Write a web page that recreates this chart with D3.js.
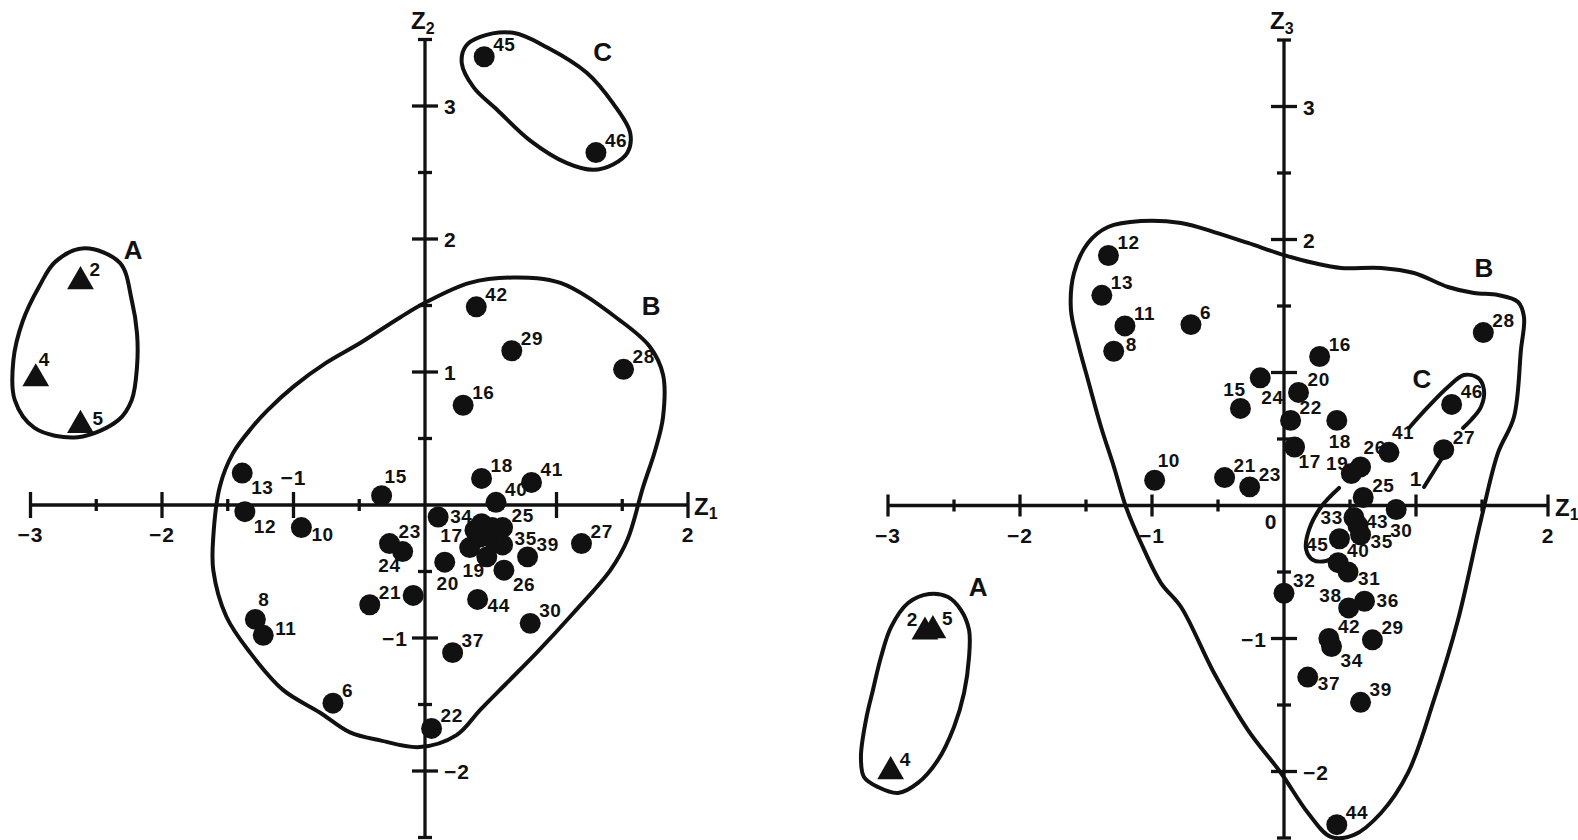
<!DOCTYPE html>
<html><head><meta charset="utf-8">
<script src="https://cdn.jsdelivr.net/npm/d3@7"></script>
<style>
body{margin:0;background:#fff;}
svg{display:block;background:#fff;}
text{font-family:"Liberation Sans",Arial,sans-serif;font-weight:bold;fill:#111;}
</style>
</head><body>
<svg id="chart" width="1578" height="840"></svg>
<script>
// ---------------- DATA ----------------
// group A (triangles)
const groupA = [2, 4, 5];

// Left panel: Z1 vs Z2
const leftIds = [2,4,5,45,46,42,29,28,16,13,12,10,15,8,11,6,21,23,24,18,41,40,34,25,17,19,35,39,26,20,44,30,37,22,27,31,33,36,38,43,32];
const leftZ1  = [-2.62,-2.96,-2.62,0.45,1.30,0.39,0.66,1.51,0.29,-1.39,-1.37,-0.94,-0.33,-1.29,-1.23,-0.70,-0.42,-0.27,-0.17,0.43,0.81,0.54,0.10,0.59,0.34,0.47,0.59,0.78,0.60,0.15,0.40,0.80,0.21,0.05,1.19,0.43,0.42,0.52,0.51,0.38,-0.09];
const leftZ2  = [1.68,0.95,0.60,3.37,2.65,1.49,1.16,1.02,0.75,0.24,-0.05,-0.17,0.07,-0.86,-0.98,-1.49,-0.75,-0.29,-0.35,0.20,0.17,0.02,-0.09,-0.17,-0.32,-0.39,-0.30,-0.39,-0.49,-0.43,-0.71,-0.89,-1.11,-1.68,-0.29,-0.14,-0.24,-0.26,-0.17,-0.19,-0.68];
const leftLabelPos = ["ne","nne","ene","ne","ne","ne","ne","ne","ne","se","se","ese","nne","nne","ene","ne","ne","ne","sw","ne","ne","ne","e","ne","nw","sw","ene","ne","se","s","ese","ne","ne","ne","ne","none","none","none","none","none","none"];

// Right panel: Z1 vs Z3
const rightIds = [2,5,4,12,13,11,8,6,10,16,24,15,20,22,18,17,21,23,19,26,41,46,27,28,25,30,33,43,35,45,40,31,32,38,36,42,34,29,37,39,44];
const rightZ1  = [-2.72,-2.66,-2.98,-1.33,-1.38,-1.205,-1.29,-0.705,-0.98,0.27,-0.18,-0.33,0.11,0.05,0.40,0.08,-0.45,-0.26,0.51,0.58,0.795,1.27,1.21,1.51,0.60,0.85,0.53,0.56,0.58,0.42,0.41,0.485,0.0,0.49,0.61,0.34,0.36,0.67,0.18,0.58,0.40];
const rightZ3  = [-0.95,-0.94,-2.00,1.88,1.58,1.35,1.16,1.36,0.19,1.12,0.96,0.73,0.85,0.64,0.64,0.44,0.21,0.14,0.24,0.29,0.40,0.76,0.42,1.30,0.06,-0.03,-0.09,-0.15,-0.22,-0.25,-0.43,-0.50,-0.66,-0.77,-0.72,-1.00,-1.06,-1.01,-1.29,-1.48,-2.40];
const rightLabelPos = ["nw","ne","ne","ne","ne","ne","ene","ne","nne","ne","sse","n","ne","ne","s","sse2","ne","ne","nnw","nne","nne","ne","ne","ne","ne","ssw","w","ee","ese","wsw","ne","ese","ne","nw","e","ne","se","ne","ese","ne","ne"];

// Axis ticks
const xTickValues = [-3,-2.5,-2,-1.5,-1,-0.5,0.5,1,1.5,2];
const yTickValues = [-2.5,-2,-1.5,-1,-0.5,0.5,1,1.5,2,2.5,3,3.5];
const leftXTickText = ["-3","-2","-1","2"];
const leftXTickAt   = [-3,-2,-1,2];
const leftXTickSide = ["below","below","above","below"];
const leftYTickText = ["3","2","1","-1","-2"];
const leftYTickAt   = [3,2,1,-1,-2];
const leftYTickSide = ["right","right","right","left","right"];
const rightXTickText = ["-3","-2","-1","0","1","2"];
const rightXTickAt   = [-3,-2,-1,0,1,2];
const rightXTickSide = ["below","below","below","below0","above","below"];
const rightYTickText = ["3","2","-1","-2"];
const rightYTickAt   = [3,2,-1,-2];
const rightYTickSide = ["right","right","left","right"];

// Group contours (data coordinates)
const leftContourA = [[-2.59,1.93],[-2.32,1.82],[-2.23,1.54],[-2.19,1.29],[-2.19,1.04],[-2.23,0.79],[-2.33,0.64],[-2.64,0.51],[-2.97,0.58],[-3.12,0.79],[-3.13,1.09],[-3.06,1.38],[-2.93,1.65],[-2.81,1.83]];
const leftContourB = [[0,1.52],[0.34,1.67],[0.67,1.71],[1.03,1.67],[1.48,1.39],[1.71,1.19],[1.81,0.98],[1.81,0.66],[1.75,0.41],[1.66,0.14],[1.54,-0.26],[1.41,-0.49],[1.13,-0.81],[0.85,-1.11],[0.62,-1.34],[0.42,-1.54],[0.24,-1.73],[-0.04,-1.82],[-0.34,-1.77],[-0.57,-1.71],[-0.80,-1.56],[-1.08,-1.39],[-1.33,-1.11],[-1.51,-0.84],[-1.61,-0.49],[-1.61,-0.24],[-1.56,0.14],[-1.46,0.39],[-1.31,0.59],[-1.20,0.71],[-1.00,0.89],[-0.75,1.07],[-0.49,1.22],[-0.19,1.41]];
const leftContourC = [[0.42,3.52],[0.67,3.55],[0.93,3.44],[1.23,3.25],[1.43,3.02],[1.56,2.80],[1.54,2.65],[1.43,2.56],[1.28,2.52],[1.08,2.57],[0.80,2.74],[0.55,2.97],[0.37,3.14],[0.28,3.32],[0.31,3.45]];
const rightContourA = [[-2.689,-0.665],[-2.545,-0.688],[-2.447,-0.786],[-2.386,-0.936],[-2.386,-1.139],[-2.424,-1.41],[-2.5,-1.665],[-2.621,-1.913],[-2.773,-2.086],[-2.924,-2.162],[-3.076,-2.117],[-3.182,-2.041],[-3.205,-1.891],[-3.167,-1.613],[-3.114,-1.387],[-3.053,-1.139],[-2.977,-0.914],[-2.848,-0.733]];
const rightContourB = [[0,1.883],[0.227,1.823],[0.432,1.786],[0.735,1.786],[0.985,1.748],[1.242,1.643],[1.439,1.598],[1.621,1.583],[1.773,1.53],[1.818,1.417],[1.795,1.169],[1.742,0.665],[1.621,0.395],[1.492,-0.109],[1.318,-0.861],[1.136,-1.462],[0.939,-2.011],[0.735,-2.312],[0.53,-2.477],[0.356,-2.492],[0.182,-2.312],[-0.023,-2.011],[-0.273,-1.688],[-0.53,-1.259],[-0.78,-0.763],[-0.932,-0.583],[-1.083,-0.282],[-1.197,-0.011],[-1.288,0.289],[-1.386,0.59],[-1.485,0.944],[-1.561,1.222],[-1.614,1.47],[-1.591,1.748],[-1.485,1.974],[-1.333,2.094],[-1.083,2.139],[-0.78,2.124],[-0.53,2.056],[-0.273,1.974]];
const rightContourC1 = [[0.947,0.583],[1.091,0.741],[1.242,0.891],[1.364,0.981],[1.47,0.959],[1.515,0.868],[1.492,0.741],[1.417,0.643],[1.356,0.583]];
const rightContourC2 = [[1.212,0.38],[1.061,0.139]];
const rightContourC3 = [[0.417,0.132],[0.28,-0.011],[0.189,-0.184],[0.167,-0.327],[0.22,-0.41],[0.318,-0.417],[0.379,-0.387]];

// Group letters (centre, data coordinates)
const leftGroupNames = ["A","B","C"];
const leftGroupAt = [[-2.22,1.92],[1.72,1.50],[1.35,3.41]];
const rightGroupNames = ["A","B","C"];
const rightGroupAt = [[-2.318,-0.613],[1.515,1.786],[1.045,0.951]];

// ---------------- DRAW ----------------
const svg = d3.select("#chart");
svg.append("rect").attr("width",1578).attr("height",840).attr("fill","#fff");

const labelOffsets = {
  ne:[9,-6,"start"], nne:[3,-13,"start"], ene:[12,0,"start"], e:[12,6,"start"], ee:[8,3,"start"],
  ese:[10,13,"start"], se:[9,21,"start"], sse:[1,26,"start"], sse2:[4,21,"start"], s:[3,28,"middle"], ssw:[-6,28,"start"],
  sw:[-2,20,"end"], wsw:[-11,12,"end"], w:[-11,7,"end"], nw:[-7,-6,"end"], nnw:[-3,-4,"end"], n:[-6,-12,"middle"]
};
const fmt = t => t.replace("-", "\u2212");

function drawPanel(cfg) {
  const g = svg.append("g");
  const x = d3.scaleLinear().domain([-3, 2]).range(cfg.xRange);
  const y = d3.scaleLinear().domain([-2.5, 3.5]).range(cfg.yRange);
  const ink = "#111";

  // axes lines
  g.append("line").attr("x1", x(-3)).attr("x2", x(2)).attr("y1", y(0)).attr("y2", y(0))
    .attr("stroke", ink).attr("stroke-width", 3.3);
  g.append("line").attr("x1", x(0)).attr("x2", x(0)).attr("y1", y(3.5)).attr("y2", y(-2.5))
    .attr("stroke", ink).attr("stroke-width", 3.3);
  // x ticks
  g.selectAll(".xt").data(xTickValues).join("line")
    .attr("x1", d => x(d)).attr("x2", d => x(d))
    .attr("y1", d => y(0) - (Number.isInteger(d) ? cfg.xMajor : 6))
    .attr("y2", d => y(0) + (Number.isInteger(d) ? cfg.xMajor : 6))
    .attr("stroke", ink).attr("stroke-width", 3.3);
  // y ticks
  g.selectAll(".yt").data(yTickValues).join("line")
    .attr("y1", d => y(d)).attr("y2", d => y(d))
    .attr("x1", d => x(0) - (Number.isInteger(d) ? 13 : 7))
    .attr("x2", d => x(0) + (Number.isInteger(d) ? 13 : 7))
    .attr("stroke", ink).attr("stroke-width", 3.3);

  // x tick labels
  cfg.xTickAt.forEach((v, i) => {
    const side = cfg.xTickSide[i];
    let tx = x(v), ty = y(0) + 37, anchor = "middle";
    if (side === "above") { ty = y(0) - 20; }
    if (side === "below0") { tx = x(v) - 13; ty = y(0) + 23; }
    g.append("text").attr("x", tx).attr("y", ty).attr("text-anchor", anchor)
      .attr("font-size", 21).attr("letter-spacing", 1).text(fmt(cfg.xTickText[i]));
  });
  // y tick labels
  cfg.yTickAt.forEach((v, i) => {
    const side = cfg.yTickSide[i];
    const t = g.append("text").attr("y", y(v) + 8).attr("font-size", 21).attr("letter-spacing", 1)
      .text(fmt(cfg.yTickText[i]));
    if (side === "right") t.attr("x", x(0) + 19).attr("text-anchor", "start");
    else t.attr("x", x(0) - 17).attr("text-anchor", "end");
  });

  // axis titles
  const yt = g.append("text").attr("x", x(0) - 14).attr("y", 29).attr("font-size", 24);
  yt.append("tspan").text("Z");
  yt.append("tspan").attr("font-size", 16).attr("dy", 5).text(cfg.yName);
  const xt = g.append("text").attr("x", x(2) + cfg.zxOff).attr("y", y(0) + 10).attr("font-size", 24);
  xt.append("tspan").text("Z");
  xt.append("tspan").attr("font-size", 16).attr("dy", 4).text("1");

  // contours
  const closed = d3.line().x(d => x(d[0])).y(d => y(d[1])).curve(d3.curveCatmullRomClosed.alpha(0.5));
  const open = d3.line().x(d => x(d[0])).y(d => y(d[1])).curve(d3.curveCatmullRom.alpha(0.5));
  cfg.closedContours.forEach(c => g.append("path").attr("d", closed(c))
    .attr("fill", "none").attr("stroke", ink).attr("stroke-width", 4));
  cfg.openContours.forEach(c => g.append("path").attr("d", open(c))
    .attr("fill", "none").attr("stroke", ink).attr("stroke-width", 4).attr("stroke-linecap", "round"));

  // points
  const pts = cfg.ids.map((id, i) => ({id, x: cfg.xs[i], y: cfg.ys[i], pos: cfg.pos[i]}));
  const tri = d3.symbol(d3.symbolTriangle, 310);
  g.selectAll(".pt").data(pts).join("path")
    .attr("transform", d => `translate(${x(d.x)},${y(d.y)})`)
    .attr("d", d => groupA.includes(d.id) ? tri() : d3.symbol(d3.symbolCircle, Math.PI * 110)())
    .attr("fill", ink);
  // point labels
  g.selectAll(".lb").data(pts.filter(d => d.pos !== "none")).join("text")
    .attr("x", d => x(d.x) + labelOffsets[d.pos][0])
    .attr("y", d => y(d.y) + labelOffsets[d.pos][1])
    .attr("text-anchor", d => labelOffsets[d.pos][2])
    .attr("font-size", 19).attr("letter-spacing", 0.6)
    .text(d => d.id);

  // group letters
  cfg.groupNames.forEach((nm, i) => {
    g.append("text").attr("x", x(cfg.groupAt[i][0])).attr("y", y(cfg.groupAt[i][1]))
      .attr("dy", "0.35em").attr("text-anchor", "middle").attr("font-size", 26).text(nm);
  });
}

drawPanel({
  xRange: [30.5, 688], yRange: [837.5, 39.5], xMajor: 13, zxOff: 6,
  yName: "2",
  xTickText: leftXTickText, xTickAt: leftXTickAt, xTickSide: leftXTickSide,
  yTickText: leftYTickText, yTickAt: leftYTickAt, yTickSide: leftYTickSide,
  closedContours: [leftContourA, leftContourB, leftContourC], openContours: [],
  ids: leftIds, xs: leftZ1, ys: leftZ2, pos: leftLabelPos,
  groupNames: leftGroupNames, groupAt: leftGroupAt
});
drawPanel({
  xRange: [888, 1548], yRange: [838, 40], xMajor: 11, zxOff: 7,
  yName: "3",
  xTickText: rightXTickText, xTickAt: rightXTickAt, xTickSide: rightXTickSide,
  yTickText: rightYTickText, yTickAt: rightYTickAt, yTickSide: rightYTickSide,
  closedContours: [rightContourA, rightContourB], openContours: [rightContourC1, rightContourC2, rightContourC3],
  ids: rightIds, xs: rightZ1, ys: rightZ3, pos: rightLabelPos,
  groupNames: rightGroupNames, groupAt: rightGroupAt
});
</script>
</body></html>
